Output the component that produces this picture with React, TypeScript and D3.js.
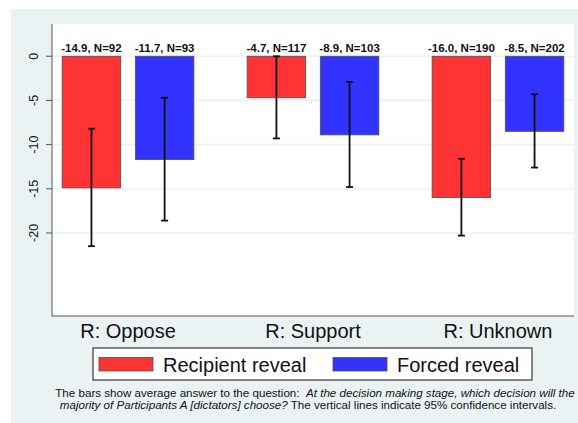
import React from "react";
import * as d3 from "d3";

const categories = ["R: Oppose", "R: Support", "R: Unknown"];
const seriesNames = ["Recipient reveal", "Forced reveal"];
const seriesColors = ["#ff3333", "#3333ff"];
const recipientMeans = [-14.9, -4.7, -16.0];
const forcedMeans = [-11.7, -8.9, -8.5];
const recipientN = [92, 117, 190];
const forcedN = [93, 103, 202];
const recipientCiHigh = [-8.2, 0.0, -11.6];
const recipientCiLow = [-21.5, -9.3, -20.3];
const forcedCiHigh = [-4.7, -2.9, -4.3];
const forcedCiLow = [-18.6, -14.8, -12.6];
const yTicks = [0, -5, -10, -15, -20];

const W = 578;
const H = 423;
const plot = { left: 52, right: 574, top: 24, bottom: 316 };

export default function App() {
  const y = d3.scaleLinear().domain([-29.4, 3.65]).range([plot.bottom, plot.top]);
  const x0 = d3
    .scaleBand<string>()
    .domain(categories)
    .range([plot.left, plot.right])
    .paddingInner(0.288)
    .paddingOuter(0.055);
  const x1 = d3
    .scaleBand<number>()
    .domain([0, 1])
    .range([0, x0.bandwidth()])
    .paddingInner(0.2)
    .paddingOuter(0);

  const series = [
    { means: recipientMeans, n: recipientN, hi: recipientCiHigh, lo: recipientCiLow },
    { means: forcedMeans, n: forcedN, hi: forcedCiHigh, lo: forcedCiLow },
  ];

  const font = "Liberation Sans, Arial, sans-serif";

  return (
    <svg
      width={W}
      height={H}
      style={{ position: "absolute", left: 0, top: 0, display: "block" }}
      fontFamily={font}
    >
      <rect x={0} y={0} width={W} height={H} fill="#ffffff" />
      <rect x={11} y={9} width={W - 11} height={H - 9} fill="#eaf2f3" />
      <rect
        x={plot.left}
        y={plot.top}
        width={plot.right - plot.left}
        height={plot.bottom - plot.top}
        fill="#ffffff"
      />
      {/* gridlines */}
      {yTicks.map((t) => (
        <line
          key={"g" + t}
          x1={plot.left}
          x2={plot.right}
          y1={y(t)}
          y2={y(t)}
          stroke="#eaf2f3"
          strokeWidth={1.6}
        />
      ))}
      {/* bars */}
      {categories.map((c, ci) =>
        series.map((s, si) => {
          const bx = (x0(c) as number) + (x1(si) as number);
          const bw = x1.bandwidth();
          const v = s.means[ci];
          const cx = bx + bw / 2;
          return (
            <g key={c + si}>
              <rect
                x={bx}
                y={y(0)}
                width={bw}
                height={y(v) - y(0)}
                fill={seriesColors[si]}
                stroke="#505050"
                strokeWidth={0.8}
              />
              <line x1={cx} x2={cx} y1={y(s.hi[ci])} y2={y(s.lo[ci])} stroke="#111" strokeWidth={1.8} />
              <line x1={cx - 3.5} x2={cx + 3.5} y1={y(s.hi[ci])} y2={y(s.hi[ci])} stroke="#111" strokeWidth={1.8} />
              <line x1={cx - 3.5} x2={cx + 3.5} y1={y(s.lo[ci])} y2={y(s.lo[ci])} stroke="#111" strokeWidth={1.8} />
              <text
                x={cx}
                y={y(0) - 4.5}
                textAnchor="middle"
                fontSize={11.5}
                fontWeight="bold"
                fill="#111"
              >
                {`${v.toFixed(1)}, N=${s.n[ci]}`}
              </text>
            </g>
          );
        })
      )}
      {/* axes */}
      <line x1={plot.left} x2={plot.left} y1={plot.top} y2={plot.bottom} stroke="#555" strokeWidth={1} />
      <line x1={plot.left} x2={plot.right} y1={plot.bottom} y2={plot.bottom} stroke="#555" strokeWidth={1} />
      {yTicks.map((t) => (
        <g key={"t" + t}>
          <line x1={plot.left - 6} x2={plot.left} y1={y(t)} y2={y(t)} stroke="#555" strokeWidth={1} />
          <text
            transform={`translate(${37.5},${y(t)}) rotate(-90)`}
            textAnchor="middle"
            fontSize={12.5}
            fill="#111"
          >
            {t}
          </text>
        </g>
      ))}
      {categories.map((c) => (
        <text
          key={"xl" + c}
          x={(x0(c) as number) + x0.bandwidth() / 2}
          y={338}
          textAnchor="middle"
          fontSize={20}
          fill="#111"
        >
          {c}
        </text>
      ))}
      {/* legend */}
      <rect x={93} y={348} width={439} height={32} fill="#fff" stroke="#111" strokeWidth={1} />
      {seriesNames.map((n, i) => {
        const sx = i === 0 ? 99 : 333;
        return (
          <g key={n}>
            <rect x={sx} y={357.5} width={54} height={13.5} fill={seriesColors[i]} stroke="#505050" strokeWidth={0.8} />
            <text x={sx + 64} y={371.5} fontSize={20} fill="#111">
              {n}
            </text>
          </g>
        );
      })}
      {/* footnote */}
      <text x={315} y={397} textAnchor="middle" fontSize={11.6} fill="#111">
        <tspan>{"The bars show average answer to the question:\u00a0 "}</tspan>
        <tspan fontStyle="italic">At the decision making stage, which decision will the</tspan>
      </text>
      <text x={308} y={409} textAnchor="middle" fontSize={11.6} fill="#111">
        <tspan fontStyle="italic">majority of Participants A [dictators] choose?</tspan>
        <tspan> The vertical lines indicate 95% confidence intervals.</tspan>
      </text>
    </svg>
  );
}
